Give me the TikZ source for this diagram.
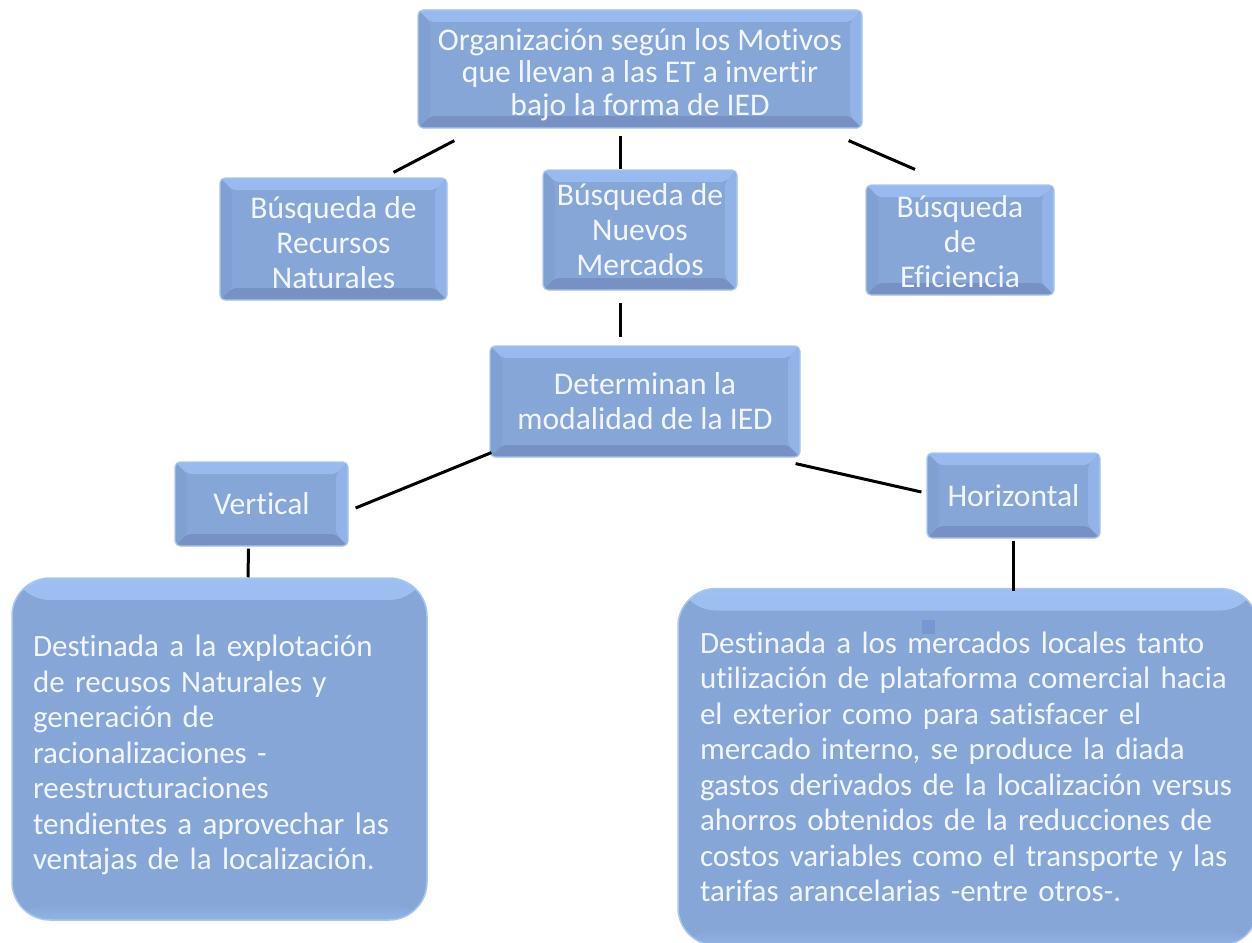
\documentclass[tikz,border=0pt]{standalone}
\usepackage{fontspec}
\setmainfont{Carlito}[Ligatures={NoCommon}]
\usetikzlibrary{calc}
\definecolor{boxfill}{HTML}{86A6D8}
\definecolor{boxedge}{HTML}{A8C6F2}
\definecolor{bevtopc}{HTML}{98BAEF}
\definecolor{bevbotc}{HTML}{7891C4}
\definecolor{bevleftc}{HTML}{809FD2}
\definecolor{bevrightc}{HTML}{92B3E8}
\definecolor{biglight}{HTML}{9EBFF2}
\definecolor{txtc}{HTML}{F2F6FD}
\definecolor{specc}{HTML}{7797D2}
\tikzset{
  conn/.style={line width=3pt, black},
  bevbox/.style={rectangle, rounded corners=5pt, fill=boxfill, draw=boxedge,
    line width=1.2pt, inner sep=0pt, text=txtc, align=center,
    font=\fontsize{31.6}{35}\selectfont,
    path picture={
      \coordinate (pnw) at (path picture bounding box.north west);
      \coordinate (pne) at (path picture bounding box.north east);
      \coordinate (psw) at (path picture bounding box.south west);
      \coordinate (pse) at (path picture bounding box.south east);
      \fill[bevtopc] (pnw) -- (pne) -- ($(pne)+(-12,-12)$) -- ($(pnw)+(12,-12)$) -- cycle;
      \fill[bevbotc] (psw) -- (pse) -- ($(pse)+(-12,12)$) -- ($(psw)+(12,12)$) -- cycle;
      \fill[bevleftc] (pnw) -- ($(pnw)+(12,-12)$) -- ($(psw)+(12,12)$) -- (psw) -- cycle;
      \fill[bevrightc] (pne) -- ($(pne)+(-12,-12)$) -- ($(pse)+(-12,12)$) -- (pse) -- cycle;
    }},
  bigbox/.style={rectangle, rounded corners=38pt, fill=boxfill, draw=boxedge,
    line width=1.5pt, inner sep=0pt, text=txtc, align=left,
    font=\fontsize{31}{35.5}\selectfont,
    path picture={
      \shade[top color=biglight, bottom color=boxfill]
        (path picture bounding box.north west) rectangle
        ($(path picture bounding box.north east)+(0,-22)$);
      \shade[bottom color=biglight!50!boxfill, top color=boxfill]
        (path picture bounding box.south west) rectangle
        ($(path picture bounding box.south east)+(0,16)$);
    }},
}
\begin{document}
\begin{tikzpicture}[x=1pt,y=1pt]
\useasboundingbox (0,0) rectangle (1252,-942);
\fill[white] (0,0) rectangle (1252,-942);

\node[bevbox, minimum width=444, minimum height=118, font=\fontsize{31.6}{32.5}\selectfont]
  (top) at (640,-69) {\rule{0pt}{33pt}Organización según los Motivos\\que llevan a las ET a invertir\\bajo la forma de IED};

\node[bevbox, minimum width=227, minimum height=122] (recnat) at (333.5,-239)
  {\rule{0pt}{29pt}Búsqueda de\\Recursos\\Naturales};
\node[bevbox, minimum width=194, minimum height=120] (mercados) at (640,-230)
  {Búsqueda de\\Nuevos\\Mercados};
\node[bevbox, minimum width=188, minimum height=110] (eficiencia) at (960,-240)
  {\rule{0pt}{26pt}Búsqueda\\de\\Eficiencia};

\node[bevbox, minimum width=310, minimum height=111] (modal) at (645,-401.5)
  {Determinan la\\modalidad de la IED};

\node[bevbox, minimum width=173, minimum height=84] (vertical) at (261.5,-504) {Vertical};
\node[bevbox, minimum width=173, minimum height=85] (horizontal) at (1013.5,-495.5) {Horizontal};

\node[bigbox, minimum width=415, minimum height=342, text width=373] (leftbig) at (219.5,-749)
  {\rule{0pt}{34pt}Destinada a la explotación\\de recusos Naturales y\\generación de\\racionalizaciones -\\reestructuraciones\\tendientes a aprovechar las\\ventajas de la localización.};

\node[bigbox, minimum width=580, minimum height=357, text width=536] (rightbig) at (968,-767)
  {Destinada a los mercados locales tanto\\utilización de plataforma comercial hacia\\el exterior como para satisfacer el\\mercado interno, se produce la diada\\gastos derivados de la localización versus\\ahorros obtenidos  de la reducciones de\\costos variables como el transporte y las\\tarifas arancelarias -entre otros-.};

\fill[specc] (922,-620) rectangle (935,-634);

\draw[conn] ($(top.south west)+(37,-12)$) -- ($(recnat.north)+(60,5)$);
\draw[conn] ($(top.south)+(-20,-7)$) -- ($(mercados.north)+(-20,0)$);
\draw[conn] ($(top.south east)+(-14,-12)$) -- ($(eficiencia.north)+(-45,15)$);
\draw[conn] ($(mercados.south)+(-20,-12)$) -- ($(modal.north)+(-25,8)$);
\draw[conn] ($(modal.south west)+(2,5)$) -- ($(vertical.east)+(7,-4)$);
\draw[conn] ($(modal.south east)+(-5,-6)$) -- ($(horizontal.west)+(-5,3.5)$);
\draw[conn] ($(vertical.south)+(-13,-2)$) -- ($(leftbig.north)+(28.5,0)$);
\draw[conn] ($(horizontal.south)+(-0.5,-2)$) -- ($(rightbig.north)+(45,-3)$);
\end{tikzpicture}
\end{document}
